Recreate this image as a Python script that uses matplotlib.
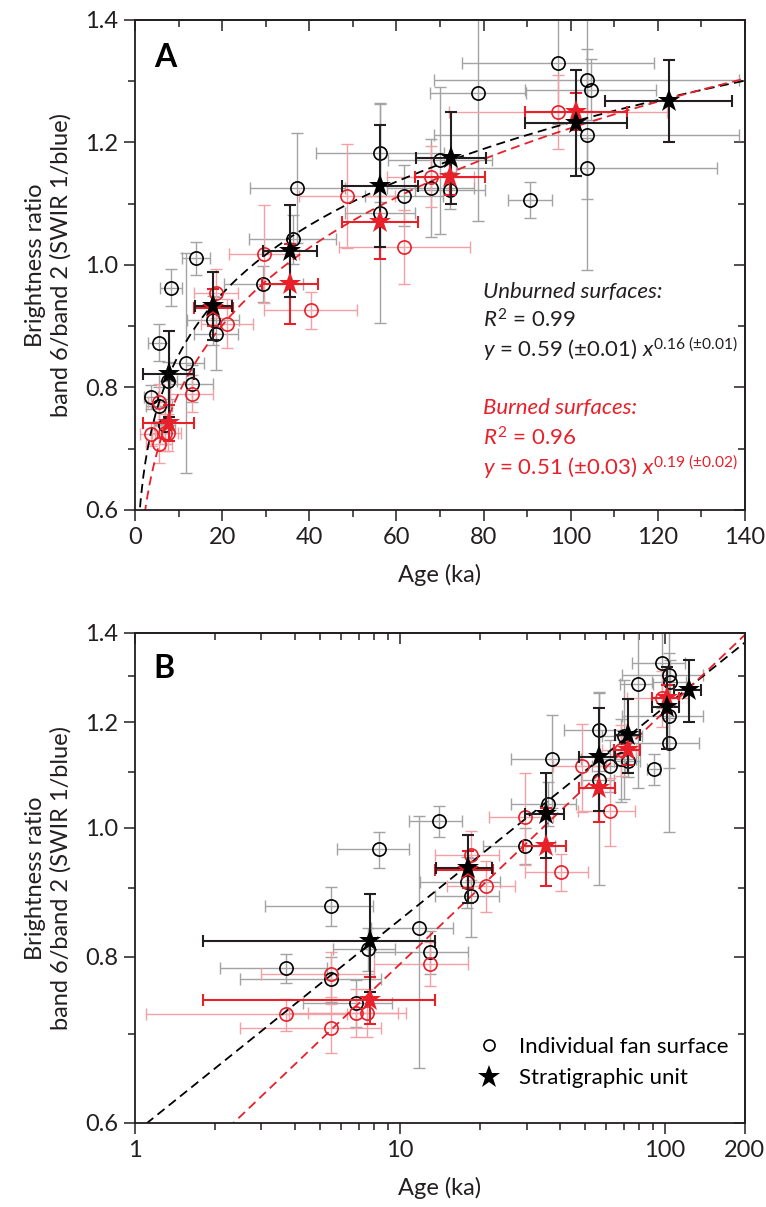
import numpy as np
import matplotlib
matplotlib.use("Agg")
import matplotlib.pyplot as plt
from matplotlib.ticker import FixedLocator, NullFormatter, FixedFormatter
from matplotlib.lines import Line2D

plt.rcParams['font.family'] = ['Lato', 'DejaVu Sans']
plt.rcParams['mathtext.fontset'] = 'custom'
plt.rcParams['mathtext.rm'] = 'Lato'
plt.rcParams['mathtext.it'] = 'Lato:italic'
plt.rcParams['axes.linewidth'] = 1.3

# individual fan surfaces, unburned (black circles)
unb_age = [3.7, 5.5, 5.5, 6.8, 7.6, 8.3, 11.8, 13.0, 14.0, 17.9, 18.6, 29.5, 36.2, 37.3,
           56.2, 56.2, 61.8, 67.9, 70.0, 72.3, 78.7, 90.7, 97.1, 103.7, 104.6, 103.7, 103.7]
unb_ratio = [0.784, 0.873, 0.770, 0.738, 0.811, 0.963, 0.840, 0.806, 1.011, 0.910, 0.888, 0.969,
             1.042, 1.125, 1.183, 1.085, 1.113, 1.126, 1.171, 1.122, 1.281, 1.106, 1.330, 1.302,
             1.286, 1.212, 1.158]
unb_age_err = [1.6, 2.4, 3.0, 2.5, 2.0, 2.5, 4.0, 5.0, 3.2, 6.0, 5.0, 9.0, 10.0, 11.0,
               14.7, 8.0, 9.0, 10.0, 12.0, 8.0, 11.0, 5.0, 22.0, 35.0, 15.0, 35.0, 30.0]
unb_ratio_err = [0.02, 0.03, 0.03, 0.03, 0.03, 0.03, 0.18, 0.03, 0.027, 0.04, 0.06, 0.03,
                 0.04, 0.09, 0.08, 0.18, 0.05, 0.08, 0.12, 0.03, 0.21, 0.03, 0.10, 0.05,
                 0.05, 0.22, 0.05]

# individual fan surfaces, burned (red circles)
brn_age = [3.7, 5.5, 5.5, 6.8, 7.5, 13.0, 18.6, 21.1, 29.6, 40.3, 48.6, 61.8, 67.9, 97.1]
brn_ratio = [0.724, 0.776, 0.707, 0.726, 0.726, 0.790, 0.954, 0.904, 1.018, 0.926, 1.112,
             1.029, 1.144, 1.250]
brn_age_err = [2.6, 2.5, 3.0, 3.0, 3.0, 5.0, 5.0, 6.0, 8.0, 10.7, 11.0, 15.0, 10.0, 25.0]
brn_ratio_err = [0.02, 0.03, 0.03, 0.03, 0.03, 0.03, 0.04, 0.04, 0.08, 0.03, 0.085, 0.06,
                 0.05, 0.06]

# stratigraphic units
su_age = [7.7, 18.0, 35.6, 56.2, 72.5, 101.3, 122.5]
su_ratio = [0.822, 0.933, 1.023, 1.129, 1.174, 1.232, 1.268]
su_age_err = [5.9, 4.3, 6.1, 8.7, 8.0, 11.7, 14.6]
su_ratio_err = [0.07, 0.055, 0.075, 0.10, 0.075, 0.087, 0.067]

sb_age = [7.7, 18.0, 35.6, 56.2, 72.3, 101.3]
sb_ratio = [0.742, 0.930, 0.969, 1.070, 1.144, 1.250]
sb_age_err = [5.9, 4.5, 6.5, 8.7, 8.0, 11.7]
sb_ratio_err = [0.03, 0.03, 0.065, 0.06, 0.03, 0.03]

# power-law fits y = a x^b
fit_unb = (0.59, 0.16)
fit_brn = (0.51, 0.19)

RED = '#e8202a'
PINK = '#f2a0a4'
GRAY = '#a3a3a3'
DARK = '#231f20'


def draw(ax, xfit):
    ax.errorbar(unb_age, unb_ratio, xerr=unb_age_err, yerr=unb_ratio_err, fmt='none',
                ecolor=GRAY, elinewidth=1, capsize=4, capthick=1, zorder=1)
    ax.errorbar(brn_age, brn_ratio, xerr=brn_age_err, yerr=brn_ratio_err, fmt='none',
                ecolor=PINK, elinewidth=1, capsize=4, capthick=1, zorder=1)
    ax.plot(xfit, fit_unb[0] * xfit ** fit_unb[1], ls=(0, (5, 3)), color='black', lw=1.3, zorder=2)
    ax.plot(xfit, fit_brn[0] * xfit ** fit_brn[1], ls=(0, (5, 3)), color=RED, lw=1.3, zorder=2)
    ax.plot(unb_age, unb_ratio, 'o', mfc='none', mec='black', ms=9.5, mew=1.2, zorder=3)
    ax.plot(brn_age, brn_ratio, 'o', mfc='none', mec=RED, ms=9.5, mew=1.2, zorder=3)
    ax.errorbar(sb_age, sb_ratio, xerr=sb_age_err, yerr=sb_ratio_err, fmt='none',
                ecolor=RED, elinewidth=1.5, capsize=4, capthick=1.5, zorder=4)
    ax.errorbar(su_age, su_ratio, xerr=su_age_err, yerr=su_ratio_err, fmt='none',
                ecolor=DARK, elinewidth=1.5, capsize=4, capthick=1.5, zorder=5)
    ax.plot(sb_age, sb_ratio, '*', color=RED, ms=17, mew=0, zorder=6)
    ax.plot(su_age, su_ratio, '*', color='black', ms=17, mew=0, zorder=7)


def style(ax, xmaj, xmin, xlabels):
    ylab = [0.6, 0.8, 1.0, 1.2, 1.4]
    ymin = [0.7, 0.9, 1.1, 1.3]
    ax.set_ylim(0.6, 1.4)
    ax.yaxis.set_major_locator(FixedLocator(ylab))
    ax.yaxis.set_major_formatter(FixedFormatter(['%.1f' % v for v in ylab]))
    ax.yaxis.set_minor_locator(FixedLocator(ymin))
    ax.yaxis.set_minor_formatter(NullFormatter())
    ax.xaxis.set_major_locator(FixedLocator(xmaj))
    ax.xaxis.set_major_formatter(FixedFormatter(xlabels))
    ax.xaxis.set_minor_locator(FixedLocator(xmin))
    ax.xaxis.set_minor_formatter(NullFormatter())
    ax.tick_params(which='both', direction='out', width=1.1, labelsize=17, colors=DARK, pad=4)
    ax.tick_params(which='major', length=8)
    ax.tick_params(which='minor', length=5)
    for s in ax.spines.values():
        s.set_color(DARK)
    top = ax.secondary_xaxis('top')
    top.xaxis.set_major_locator(FixedLocator(xmaj))
    top.xaxis.set_minor_locator(FixedLocator(xmin))
    top.xaxis.set_major_formatter(NullFormatter())
    top.xaxis.set_minor_formatter(NullFormatter())
    top.tick_params(which='both', direction='in', width=1.1, colors=DARK)
    top.tick_params(which='major', length=8)
    top.tick_params(which='minor', length=5)
    right = ax.secondary_yaxis('right')
    right.yaxis.set_major_locator(FixedLocator(ylab))
    right.yaxis.set_minor_locator(FixedLocator(ymin))
    right.yaxis.set_major_formatter(NullFormatter())
    right.yaxis.set_minor_formatter(NullFormatter())
    right.tick_params(which='both', direction='in', width=1.1, colors=DARK)
    right.tick_params(which='major', length=8)
    right.tick_params(which='minor', length=5)
    for sec in (top, right):
        for s in sec.spines.values():
            s.set_color(DARK)
    ax.set_xlabel('Age (ka)', fontsize=17, color=DARK, labelpad=12)
    ax.set_ylabel('Brightness ratio\nband 6/band 2 (SWIR 1/blue)', fontsize=17, color=DARK,
                  labelpad=10, linespacing=1.2)


fig = plt.figure(figsize=(7.66, 12.07), dpi=100)
axA = fig.add_axes([0.1762, 0.5775, 0.7963, 0.406])
axB = fig.add_axes([0.1762, 0.0696, 0.7963, 0.406])

# panel A: linear axes
draw(axA, np.linspace(0.3, 140, 600))
axA.set_xlim(0, 140)
style(axA, list(range(0, 141, 20)), list(range(10, 140, 20)),
      [str(v) for v in range(0, 141, 20)])
axA.text(0.049, 0.924, 'A', transform=axA.transAxes, fontsize=23, fontweight='bold',
         ha='center', va='center')

fs = 16
axA.text(0.57, 0.445, 'Unburned surfaces:', transform=axA.transAxes, fontsize=fs,
         style='italic', va='center', color=DARK)
axA.text(0.57, 0.388, r'$R^2$ = 0.99', transform=axA.transAxes, fontsize=fs, va='center', color=DARK)
axA.text(0.57, 0.329, r'$y$ = 0.59 (±0.01) $x^{0.16\ (\pm0.01)}$', transform=axA.transAxes,
         fontsize=fs, va='center', color=DARK)
axA.text(0.57, 0.208, 'Burned surfaces:', transform=axA.transAxes, fontsize=fs,
         style='italic', va='center', color=RED)
axA.text(0.57, 0.147, r'$R^2$ = 0.96', transform=axA.transAxes, fontsize=fs, va='center', color=RED)
axA.text(0.57, 0.088, r'$y$ = 0.51 (±0.03) $x^{0.19\ (\pm0.02)}$', transform=axA.transAxes,
         fontsize=fs, va='center', color=RED)

# panel B: log-log axes
axB.set_xscale('log')
axB.set_yscale('log')
draw(axB, np.logspace(0, np.log10(200), 400))
axB.set_xlim(1, 200)
xminB = [2, 3, 4, 5, 6, 7, 8, 9, 20, 30, 40, 50, 60, 70, 80, 90]
style(axB, [1, 10, 100, 200], xminB, ['1', '10', '100', '200'])
axB.text(0.048, 0.927, 'B', transform=axB.transAxes, fontsize=23, fontweight='bold',
         ha='center', va='center')

handles = [Line2D([], [], marker='o', ls='none', mfc='none', mec='black', ms=8, mew=1.2),
           Line2D([], [], marker='*', ls='none', color='black', ms=17, mew=0)]
axB.legend(handles, ['Individual fan surface', 'Stratigraphic unit'], loc='lower left',
           bbox_to_anchor=(0.52, 0.03), frameon=False, fontsize=16, handletextpad=0.6,
           labelspacing=0.5, handlelength=1.5)

fig.savefig('out.png', dpi=100)
